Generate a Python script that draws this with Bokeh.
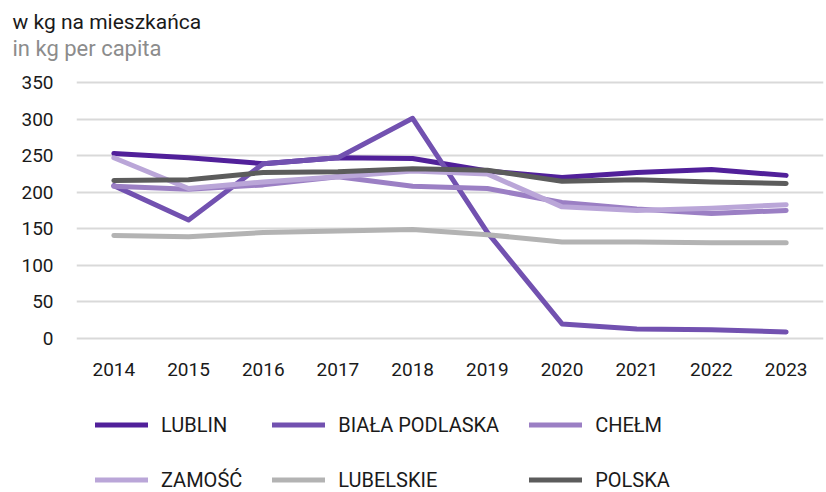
from bokeh.plotting import figure
from bokeh.models import Range1d, FixedTicker, Legend, LegendItem, Title
from bokeh.layouts import column
from bokeh.embed import file_html
from bokeh.resources import INLINE

years = [2014, 2015, 2016, 2017, 2018, 2019, 2020, 2021, 2022, 2023]
lublin = [253, 247, 239, 247, 246, 229, 220, 227, 231, 223]
biala = [209, 162, 239, 247, 301, 145, 20, 13, 12, 9]
chelm = [208, 204, 210, 221, 208, 205, 186, 177, 171, 175]
zamosc = [247, 205, 214, 221, 229, 225, 180, 175, 178, 183]
lubelskie = [141, 139, 145, 147, 149, 142, 132, 132, 131, 131]
polska = [216, 217, 227, 228, 232, 230, 215, 217, 214, 212]

names = ["LUBLIN", "BIAŁA PODLASKA", "CHEŁM", "ZAMOŚĆ", "LUBELSKIE", "POLSKA"]
colors = ["#51209a", "#7251b0", "#9b7fc4", "#baa6d8", "#b3b3b3", "#5c5c5c"]
series = [lublin, biala, chelm, zamosc, lubelskie, polska]
y_ticks = [0, 50, 100, 150, 200, 250, 300, 350]

FONT = "Roboto"
LINE_STYLE = dict(line_width=5, line_cap="round", line_join="round")

# ---------------- main chart ----------------
p = figure(width=826, height=392, output_backend="svg", toolbar_location=None,
           x_range=Range1d(2013.5, 2023.5), y_range=Range1d(-4, 354),
           min_border_left=76, min_border_right=3, min_border_top=79,
           min_border_bottom=51,
           background_fill_color="white", border_fill_color="white",
           outline_line_color=None)

# spacer between the subtitle and the plot area
p.add_layout(Title(text=" ", text_font=FONT, text_font_size="10px", standoff=6), "above")
p.add_layout(Title(text="in kg per capita", align="left", offset=-64,
                   text_font=FONT, text_font_size="22px", text_font_style="normal",
                   text_color="#8c8c8c", standoff=0), "above")
p.add_layout(Title(text="w kg na mieszkańca", align="left", offset=-64,
                   text_font=FONT, text_font_size="21px", text_font_style="normal",
                   text_color="#1a1a1a", standoff=0), "above")

renderers = []
for col, vals in zip(colors, series):
    renderers.append(p.line(years, vals, line_color=col, **LINE_STYLE))

p.xaxis.ticker = FixedTicker(ticks=years)
p.yaxis.ticker = FixedTicker(ticks=y_ticks)
for ax in (p.xaxis, p.yaxis):
    ax.axis_line_color = None
    ax.major_tick_line_color = None
    ax.minor_tick_line_color = None
    ax.major_label_text_font = FONT
    ax.major_label_text_font_size = "19px"
    ax.major_label_text_color = "#1a1a1a"
p.xaxis.major_label_standoff = 15
p.yaxis.major_label_standoff = 17
p.xgrid.grid_line_color = None
p.ygrid.grid_line_color = "#d9d9d9"
p.ygrid.grid_line_width = 2

# ---------------- legend strip ----------------
pl = figure(width=826, height=100, output_backend="svg", toolbar_location=None,
            x_range=p.x_range, y_range=p.y_range,
            x_axis_type=None, y_axis_type=None,
            min_border=0, min_border_left=0, min_border_right=0,
            min_border_top=0, min_border_bottom=0,
            background_fill_color="white", border_fill_color="white",
            outline_line_color=None)
pl.xgrid.visible = False
pl.ygrid.visible = False

leg_renderers = []
for col, vals in zip(colors, series):
    leg_renderers.append(pl.line(years, vals, line_color=col, visible=False, **LINE_STYLE))

legend = Legend(items=[LegendItem(label=n, renderers=[r]) for n, r in zip(names, leg_renderers)],
                orientation="horizontal", ncols=3, location=(19, 0),
                glyph_width=53, glyph_height=25, label_height=25,
                label_standoff=13, spacing=30, padding=0, margin=0,
                border_line_alpha=0, background_fill_alpha=0,
                inactive_fill_alpha=0, click_policy="none",
                label_text_font=FONT, label_text_font_size="20px",
                label_text_color="#1a1a1a")
pl.add_layout(legend, "center")

layout = column(p, pl, spacing=0)
open("out.html", "w").write(file_html(layout, INLINE))
